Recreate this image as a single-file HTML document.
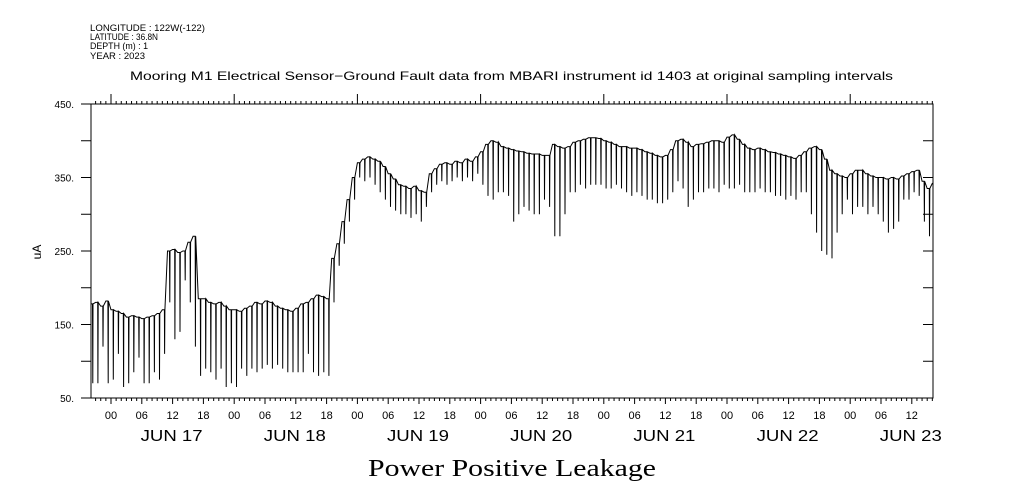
<!DOCTYPE html>
<html><head><meta charset="utf-8"><style>
body{margin:0;background:#fff;width:1009px;height:504px;overflow:hidden}
svg{display:block}
text{font-family:"Liberation Sans",sans-serif;fill:#000}
</style></head><body>
<svg id="chart" width="1009" height="504" viewBox="0 0 1009 504">
<defs><clipPath id="plotclip"><rect x="91" y="104" width="842" height="294"/></clipPath></defs>
<g font-size="9">
<text x="90" y="31" textLength="115" lengthAdjust="spacingAndGlyphs">LONGITUDE : 122W(-122)</text>
<text x="90" y="40" textLength="68" lengthAdjust="spacingAndGlyphs">LATITUDE : 36.8N</text>
<text x="90" y="49" textLength="58" lengthAdjust="spacingAndGlyphs">DEPTH (m) : 1</text>
<text x="90" y="59" textLength="55" lengthAdjust="spacingAndGlyphs">YEAR : 2023</text>
</g>
<text x="130" y="80" font-size="12" textLength="763" lengthAdjust="spacingAndGlyphs">Mooring M1 Electrical Sensor−Ground Fault data from MBARI instrument id 1403 at original sampling intervals</text>
<text x="41" y="252" font-size="12" text-anchor="middle" transform="rotate(-90 41 252)">uA</text>
<text x="368" y="476" font-size="24" textLength="288" lengthAdjust="spacingAndGlyphs" style="font-family:'Liberation Serif',serif">Power Positive Leakage</text>
<rect x="91" y="104" width="842" height="294" fill="none" stroke="#000" stroke-width="1"/>
<g id="axes"></g>
<path id="series" fill="none" stroke="#000" stroke-width="1" clip-path="url(#plotclip)"/>
</svg>
<script>
const yTicks=[50,150,250,350,450];
const yTickLabels=["50.","150.","250.","350.","450."];
const dayLabels=["JUN 17","JUN 18","JUN 19","JUN 20","JUN 21","JUN 22","JUN 23"];
const hourLabels=["00","06","12","18"];
// hourly samples starting Jun 16 20:00; plateau value and dip minimum per hour
const highVals=[178,180,175,182,
170,168,165,160,162,160,158,160,162,165,170,250,252,248,250,262,270,185,185,180,178,180,175,170,
170,168,172,175,180,178,182,180,175,172,170,168,172,178,180,185,190,188,185,240,260,290,320,350,
370,375,378,375,372,365,355,348,340,338,335,338,332,330,355,362,368,370,368,372,370,375,372,378,
385,395,400,398,392,390,388,386,385,383,382,382,380,380,395,392,390,392,398,400,402,404,404,403,
400,398,395,392,392,390,390,388,385,383,380,378,380,388,400,402,398,392,395,396,398,400,400,398,
405,408,402,395,390,388,390,388,385,384,382,380,378,376,380,385,390,392,388,375,360,355,352,350,
355,360,360,355,352,350,350,348,350,348,352,355,358,360,345,335,342];
const lowVals=[70,70,120,70,
75,110,65,70,85,105,70,70,85,75,110,180,130,140,210,180,120,80,90,85,75,90,65,70,
65,90,80,90,85,90,95,90,95,90,85,85,85,85,110,85,80,85,80,180,230,260,290,320,
350,345,350,340,330,320,310,305,300,300,295,300,290,310,330,340,345,340,345,350,345,350,345,355,
340,325,320,330,330,325,290,300,310,305,300,300,320,310,270,270,300,330,330,340,335,340,340,340,
335,335,340,335,330,325,330,325,320,320,315,315,320,330,345,335,310,320,330,330,335,335,330,340,
335,335,340,330,330,330,335,330,330,325,325,320,325,320,330,330,300,275,250,245,240,275,300,320,
300,310,310,300,310,300,290,275,280,290,320,320,330,325,290,270,300];
const startHour=-4; // relative to Jun 17 00:00
const X0=111, pxPerHour=123.2/24;
const xScale=h=>X0+h*pxPerHour;
const yScale=v=>104+(450-v)*294/400;
const NS="http://www.w3.org/2000/svg";
const ax=document.getElementById('axes');
function line(x1,y1,x2,y2,name){const l=document.createElementNS(NS,'line');
l.setAttribute('x1',x1);l.setAttribute('y1',y1);l.setAttribute('x2',x2);l.setAttribute('y2',y2);
l.setAttribute('stroke','#000');


ax.appendChild(l);}
function txt(x,y,s,size,anchor,name,len){const t=document.createElementNS(NS,'text');
t.setAttribute('x',x);t.setAttribute('y',y);t.setAttribute('font-size',size);t.setAttribute('text-anchor',anchor);t.textContent=s;
if(len){t.setAttribute('textLength',len);t.setAttribute('lengthAdjust','spacingAndGlyphs');}


ax.appendChild(t);}
yTicks.forEach((v,i)=>{const y=yScale(v);txt(74,y+4,yTickLabels[i],10,'end','y-tick-label');});
for(let v=50;v<=450;v+=50){const y=yScale(v);line(81,y,91,y,'y-tick-left');line(923,y,933,y,'y-tick-right');}
for(let h=-3;h<=160;h++){const x=xScale(h);if(x<91||x>933)continue;
const six=(h%6+6)%6===0, day=(h%24+24)%24===0;
line(x,398,x,398+(six?6:3),'x-tick-bottom');
line(x,104,x,104-(day?10:3),'x-tick-top');
if(six){txt(x,419,hourLabels[((h/6)%4+4)%4],11,'middle','x-hour-label');}
}
dayLabels.forEach((d,i)=>txt(xScale(i*24+12)-1,441,d,16,'middle','x-day-label',62));
let dstr='';
highVals.forEach((v,i)=>{const h=startHour+i;
dstr+=(i?'L':'M')+xScale(h).toFixed(1)+' '+yScale(v).toFixed(1)+
' L'+xScale(h+0.4).toFixed(1)+' '+yScale(v).toFixed(1)+
' L'+xScale(h+0.45).toFixed(1)+' '+yScale(lowVals[i]).toFixed(1)+
' L'+xScale(h+0.5).toFixed(1)+' '+yScale(v).toFixed(1)+' ';});
document.getElementById('series').setAttribute('d',dstr);
</script>
</body></html>
